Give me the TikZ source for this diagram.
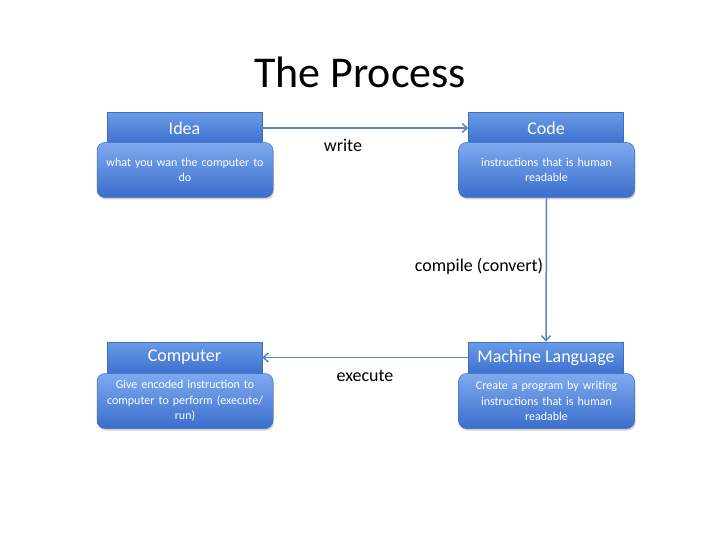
\documentclass[tikz,border=0pt]{standalone}
\usepackage{fontspec}
\setmainfont{Carlito}
\usetikzlibrary{shadows,arrows.meta}
\definecolor{hdtop}{HTML}{6A9BE6}
\definecolor{hdbot}{HTML}{3D71CF}
\definecolor{bdtop}{HTML}{7FAAF0}
\definecolor{bdbot}{HTML}{3A6ECC}
\definecolor{edgeblue}{HTML}{3F6FB8}
\definecolor{arrowblue}{HTML}{5B84C0}
\tikzset{
  header/.style={draw=edgeblue, line width=0.5pt, top color=hdtop, bottom color=hdbot,
    minimum width=155pt, minimum height=31pt, text=white, font=\fontsize{18}{20}\selectfont, inner sep=0pt},
  body/.style={draw=edgeblue, line width=0.5pt, rounded corners=8pt, top color=bdtop, bottom color=bdbot,
    minimum width=176pt, minimum height=55pt, text=white, align=center, text width=170pt,
    font=\fontsize{12}{15.5}\selectfont, inner sep=0pt,
    drop shadow={shadow xshift=1pt, shadow yshift=-2pt, opacity=0.35}},
  conn/.style={draw=arrowblue, line width=1.5pt, -{Straight Barb[length=5pt,width=9pt]}},
  lbl/.style={font=\fontsize{18}{20}\selectfont, inner sep=0pt}
}
\begin{document}
\begin{tikzpicture}[x=1pt,y=-1pt]
\useasboundingbox (0,0) rectangle (720,540);
\node[font=\fontsize{44}{48}\selectfont] (title) at (360,72) {The Process};
% Idea
\node[header] (ideah) at (184.5,128) {Idea};
\node[body] (ideab) at (185,170) {what you wan the computer to\\do};
% Code
\node[header] (codeh) at (546,128) {Code};
\node[body] (codeb) at (546.5,170) {instructions that is human\\readable};
% Computer
\node[header] (comph) at (184.5,357.5) {Computer};
\node[body] (compb) at (185,401) {Give encoded instruction to\\computer to perform (execute/\\run)};
% Machine Language
\node[header] (mlh) at (546,357.5) {Machine Language};
\node[body] (mlb) at (546.5,401) {Create a program by writing\\instructions that is human\\readable};
% connectors
\draw[conn] (ideah.east) -- (codeh.west);
\draw[conn] (codeb.south) -- (mlh.north);
\draw[conn] (mlh.west) -- (comph.east);
\node[lbl] (w) at (343,145) {write};
\node[lbl] (c) at (479,266) {compile (convert)};
\node[lbl] (e) at (365,376) {execute};
\end{tikzpicture}
\end{document}
